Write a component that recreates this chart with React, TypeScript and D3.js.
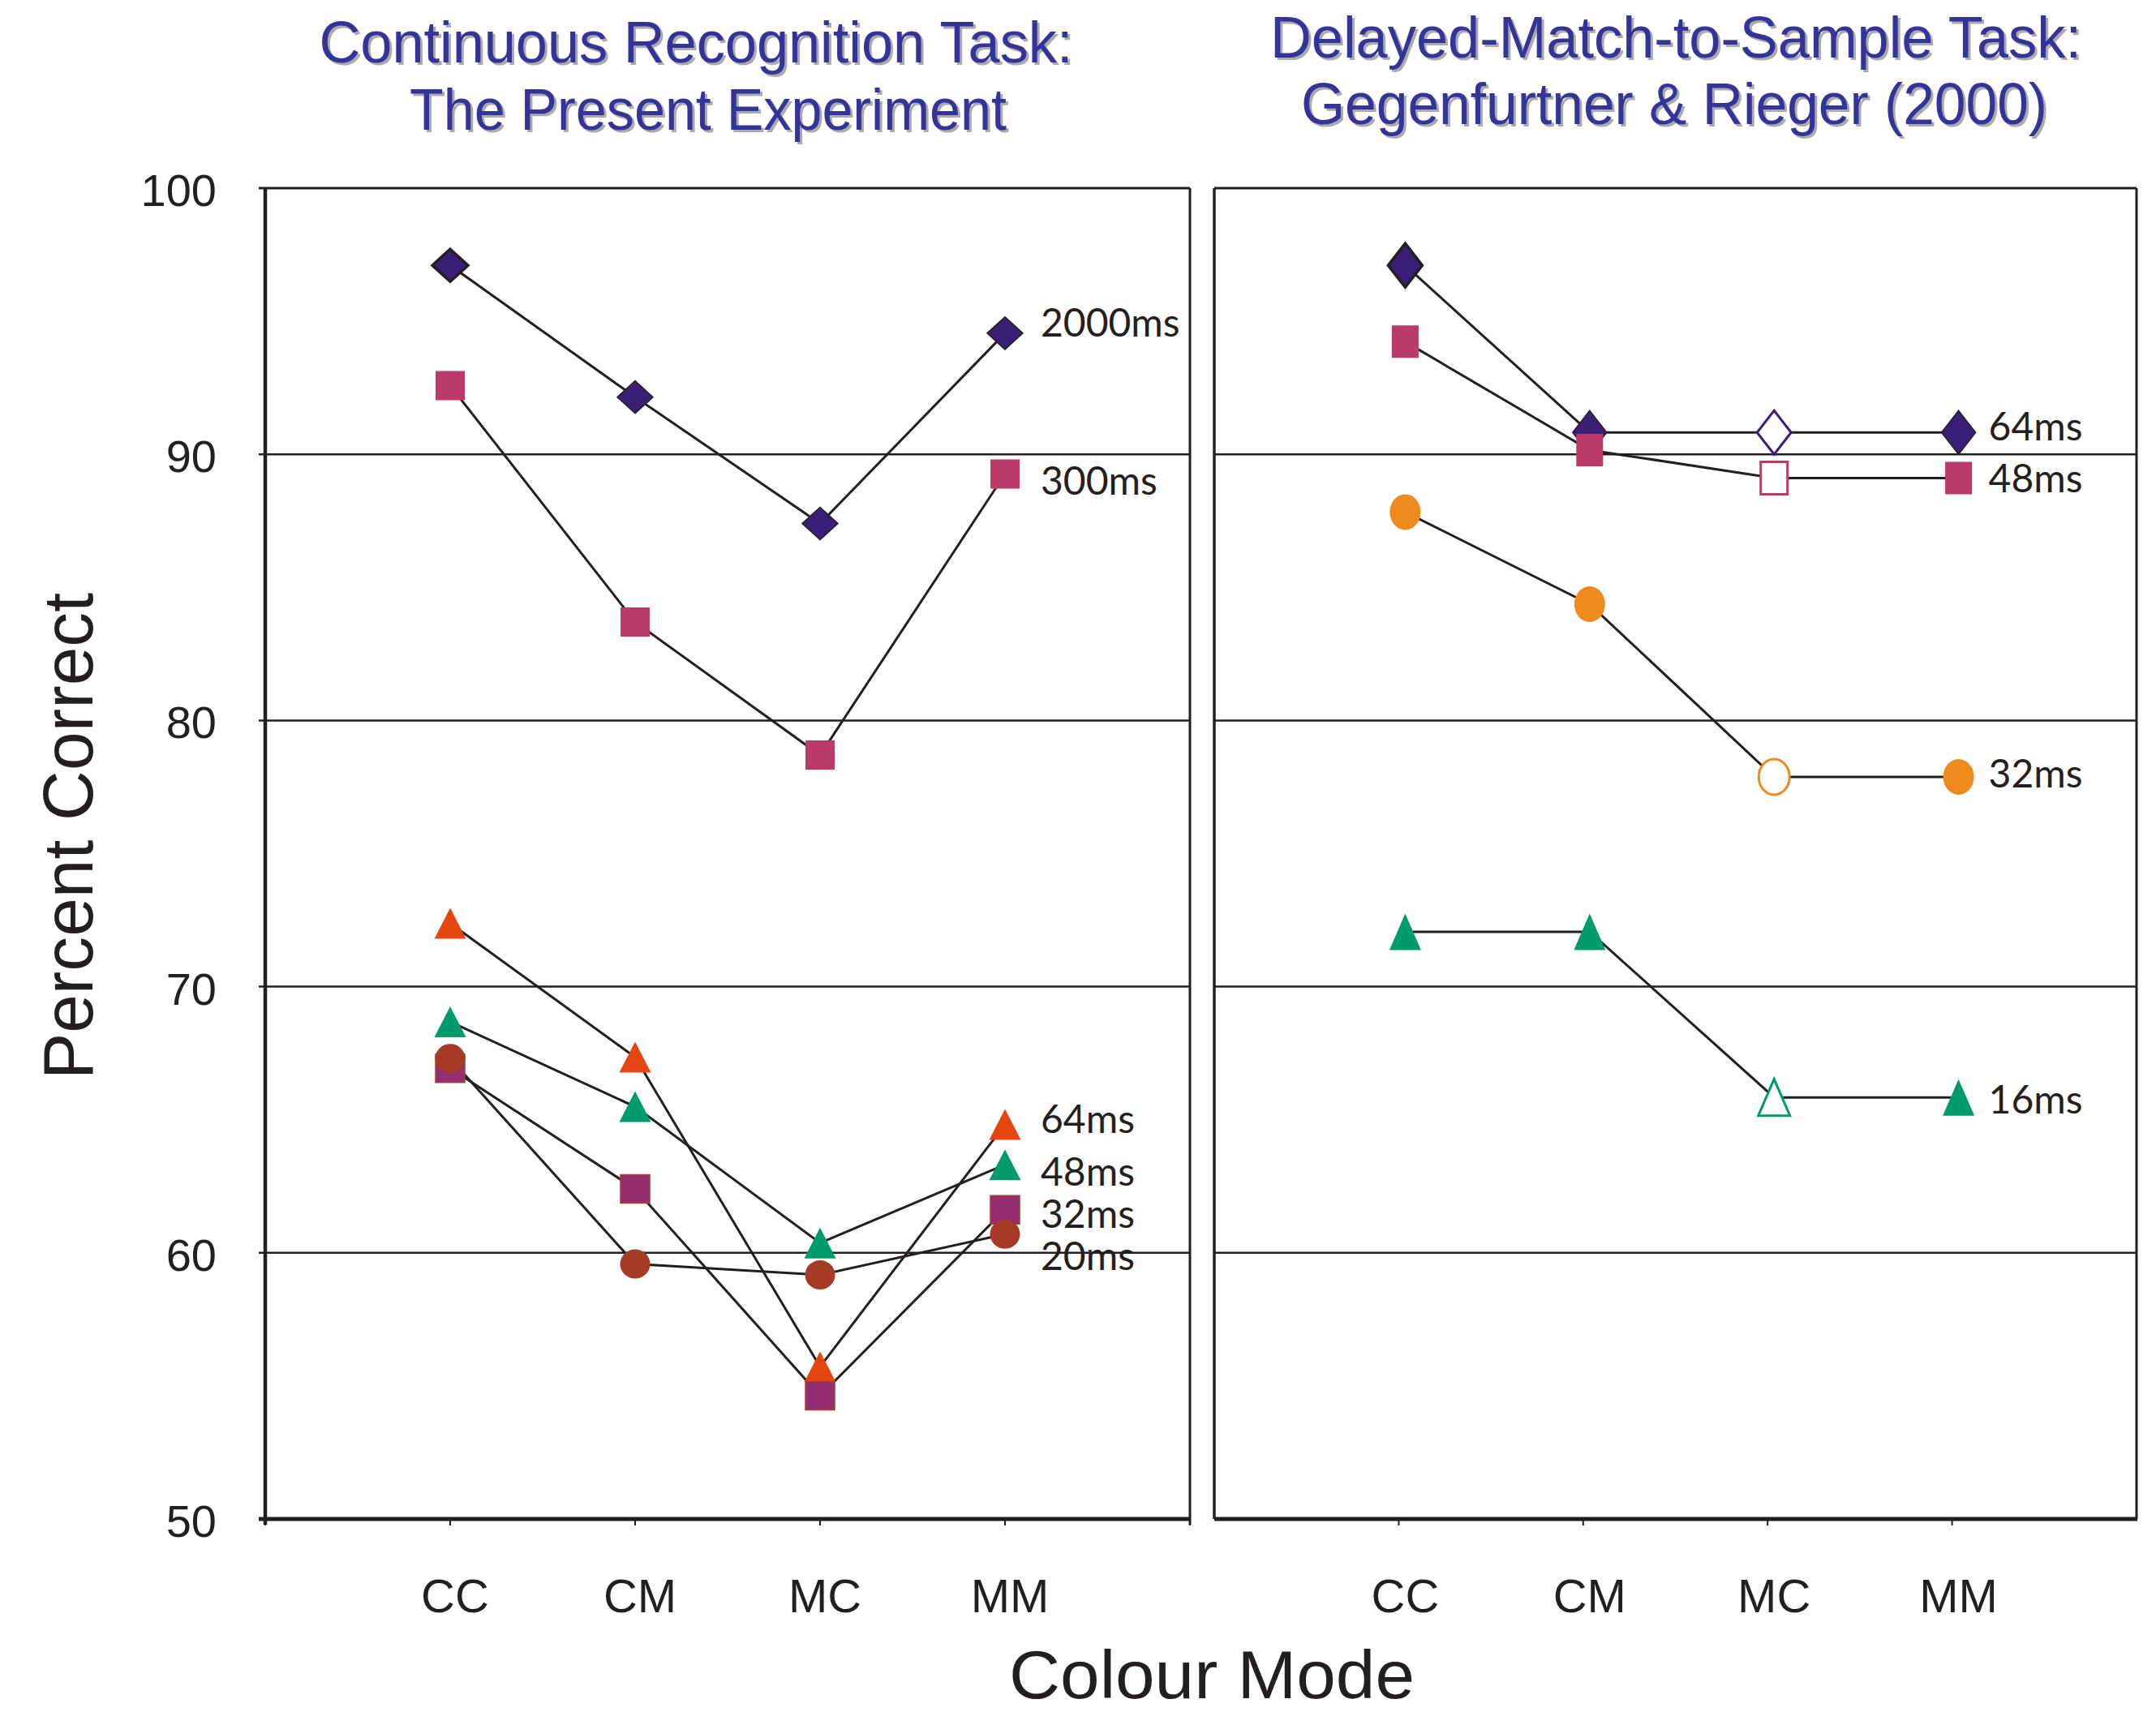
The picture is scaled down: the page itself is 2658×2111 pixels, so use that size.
import React, { useEffect, useRef } from "react";
import * as d3 from "d3";

// colour modes on the x axis
const categories = ["CC", "CM", "MC", "MM"];
const yTicks = [50, 60, 70, 80, 90, 100];

// left panel: continuous recognition task (present experiment)
const left2000 = [97.1, 92.15, 87.4, 94.55];
const left300 = [92.58, 83.7, 78.7, 89.26];
const left64 = [72.38, 67.35, 55.72, 64.82];
const left48 = [68.68, 65.49, 60.37, 63.31];
const left32 = [66.93, 62.4, 54.63, 61.62];
const left20 = [67.3, 59.58, 59.17, 60.7];
const leftLabels = ["2000ms", "300ms", "64ms", "48ms", "32ms", "20ms"];
const leftLabelAt = [94.42, 88.48, 64.5, 62.52, 60.94, 59.35];

// right panel: delayed-match-to-sample (Gegenfurtner & Rieger 2000)
const right64 = [97.1, 90.82, 90.82, 90.82];
const right48 = [94.23, 90.16, 89.11, 89.11];
const right32 = [87.83, 84.37, 77.88, 77.88];
const right16 = [72.06, 72.06, 65.84, 65.84];
const rightLabels = ["64ms", "48ms", "32ms", "16ms"];
const rightLabelAt = [90.52, 88.57, 77.48, 65.23];
const rightOpenIndex = 2; // MC markers are unfilled

const W = 2658;
const H = 2111;
const TOP = 232;
const BOTTOM = 1873;
const INK = "#231f20";
const SANS = "'Liberation Sans', Arial, sans-serif";
const LABEL_FONT = "Lato, 'Open Sans', sans-serif";

type Shape = "diamond" | "square" | "triangle" | "circle";
interface Series {
  values: number[];
  shape: Shape;
  fill: string;
  stroke?: string;
  w: number;
  h: number;
}

const leftSeries: Series[] = [
  { values: left2000, shape: "diamond", fill: "#3a1f78", stroke: INK, w: 44, h: 40 },
  { values: left300, shape: "square", fill: "#bc3a6a", w: 36, h: 36 },
  { values: left64, shape: "triangle", fill: "#e54610", w: 39, h: 38 },
  { values: left48, shape: "triangle", fill: "#009b6c", w: 39, h: 38 },
  { values: left32, shape: "square", fill: "#952d73", stroke: "#a8402a", w: 36, h: 35 },
  { values: left20, shape: "circle", fill: "#a53b25", w: 37, h: 36 },
];

const rightSeries: Series[] = [
  { values: right64, shape: "diamond", fill: "#3a1f78", stroke: INK, w: 42, h: 54 },
  { values: right48, shape: "square", fill: "#bc3a6a", w: 33, h: 40 },
  { values: right32, shape: "circle", fill: "#ee8b1c", w: 38, h: 44 },
  { values: right16, shape: "triangle", fill: "#009b6c", w: 39, h: 45 },
];

function markerPath(shape: Shape, w: number, h: number) {
  const p = d3.path();
  if (shape === "diamond") {
    p.moveTo(0, -h / 2);
    p.lineTo(w / 2, 0);
    p.lineTo(0, h / 2);
    p.lineTo(-w / 2, 0);
    p.closePath();
  } else if (shape === "triangle") {
    p.moveTo(0, -h / 2);
    p.lineTo(w / 2, h / 2);
    p.lineTo(-w / 2, h / 2);
    p.closePath();
  } else {
    p.rect(-w / 2, -h / 2, w, h);
  }
  return p.toString();
}

export default function App() {
  const svgRef = useRef<SVGSVGElement>(null);

  useEffect(() => {
    document.body.style.margin = "0";
    if (!svgRef.current) return;
    const svg = d3.select(svgRef.current);
    svg.selectAll("*").remove();

    const y = d3.scaleLinear().domain([50, 100]).range([BOTTOM, TOP]);
    const xLeft = d3.scaleLinear().domain([0, 5]).range([327, 1467]);
    const xRight = d3.scaleLinear().domain([0, 5]).range([1497, 2634]);

    // タイトル（影付き）
    const title = (lines: string[], cx: number[], base: number[], lens: number[]) => {
      lines.forEach((t, i) => {
        [
          { dx: 3, dy: 3, c: "#ababab" },
          { dx: 0, dy: 0, c: "#333399" },
        ].forEach((s) => {
          svg
            .append("text")
            .attr("x", cx[i] + s.dx)
            .attr("y", base[i] + s.dy)
            .attr("text-anchor", "middle")
            .attr("textLength", lens[i])
            .attr("lengthAdjust", "spacingAndGlyphs")
            .style("font-family", SANS)
            .style("font-size", "72px")
            .style("fill", s.c)
            .text(t);
        });
      });
    };
    title(
      ["Continuous Recognition Task:", "The Present Experiment"],
      [858, 873],
      [77, 160],
      [929, 736]
    );
    title(
      ["Delayed-Match-to-Sample Task:", "Gegenfurtner & Rieger (2000)"],
      [2066, 2064],
      [71, 153],
      [1000, 920]
    );

    const drawPanel = (
      x: d3.ScaleLinear<number, number>,
      series: Series[],
      labels: string[],
      labelAt: number[],
      isLeft: boolean
    ) => {
      const [x0, x1] = x.range();
      const shift = isLeft ? 0 : 8;
      const px = (i: number) => x(i + 1) + shift;
      const g = svg.append("g");

      // グリッド線
      yTicks
        .filter((t) => t > 50 && t < 100)
        .forEach((t) => {
          g.append("line")
            .attr("x1", isLeft ? x0 - 8 : x0)
            .attr("x2", x1)
            .attr("y1", y(t))
            .attr("y2", y(t))
            .attr("stroke", INK)
            .attr("stroke-width", 2.5);
        });

      // 枠
      g.append("line")
        .attr("x1", isLeft ? x0 - 8 : x0)
        .attr("x2", x1)
        .attr("y1", y(100))
        .attr("y2", y(100))
        .attr("stroke", INK)
        .attr("stroke-width", 3);
      g.append("line")
        .attr("x1", x1)
        .attr("x2", x1)
        .attr("y1", y(100))
        .attr("y2", y(50) + (isLeft ? 7 : 0))
        .attr("stroke", INK)
        .attr("stroke-width", 3);
      g.append("line")
        .attr("x1", x0)
        .attr("x2", x0)
        .attr("y1", y(100))
        .attr("y2", y(50) + (isLeft ? 7 : 0))
        .attr("stroke", INK)
        .attr("stroke-width", isLeft ? 4.5 : 3.5);
      g.append("line")
        .attr("x1", isLeft ? x0 - 8 : x0)
        .attr("x2", x1 + 1)
        .attr("y1", y(50))
        .attr("y2", y(50))
        .attr("stroke", INK)
        .attr("stroke-width", 5);

      // X軸の目盛り
      const tickIdx = isLeft ? [0, 1, 2, 3, 4, 5] : [1, 2, 3, 4];
      tickIdx.forEach((i) => {
        g.append("line")
          .attr("x1", x(i))
          .attr("x2", x(i))
          .attr("y1", y(50))
          .attr("y2", y(50) + 8)
          .attr("stroke", INK)
          .attr("stroke-width", 2);
      });

      categories.forEach((c, i) => {
        g.append("text")
          .attr("x", px(i) + (isLeft ? 6 : 0))
          .attr("y", 1988)
          .attr("text-anchor", "middle")
          .style("font-family", SANS)
          .style("font-size", "58px")
          .style("fill", INK)
          .text(c);
      });

      // ライン
      const line = d3
        .line<number>()
        .x((_, i) => px(i))
        .y((d) => y(d));
      series.forEach((s) => {
        g.append("path")
          .datum(s.values)
          .attr("fill", "none")
          .attr("stroke", INK)
          .attr("stroke-width", 3)
          .attr("d", line);
      });

      // マーカー
      series.forEach((s) => {
        s.values.forEach((v, i) => {
          const open = !isLeft && i === rightOpenIndex;
          const m =
            s.shape === "circle"
              ? g
                  .append("ellipse")
                  .attr("cx", px(i))
                  .attr("cy", y(v))
                  .attr("rx", s.w / 2)
                  .attr("ry", s.h / 2)
              : g
                  .append("path")
                  .attr("transform", `translate(${px(i)},${y(v)})`)
                  .attr("d", markerPath(s.shape, s.w, s.h));
          if (open) {
            m.attr("fill", "white").attr("stroke", s.fill).attr("stroke-width", 3);
          } else {
            m.attr("fill", s.fill);
            if (s.stroke) {
              const thick = s.shape === "diamond" && i === 0 ? 3.5 : 1.5;
              m.attr("stroke", s.stroke).attr("stroke-width", thick);
            }
          }
        });
      });

      // 系列ラベル
      labels.forEach((l, i) => {
        g.append("text")
          .attr("x", px(3) + (isLeft ? 44 : 37))
          .attr("y", y(labelAt[i]))
          .style("font-family", LABEL_FONT)
          .style("font-size", "48px")
          .style("fill", INK)
          .text(l);
      });
    };

    drawPanel(xLeft, leftSeries, leftLabels, leftLabelAt, true);
    drawPanel(xRight, rightSeries, rightLabels, rightLabelAt, false);

    // Y軸ラベル
    yTicks.forEach((t) => {
      svg
        .append("text")
        .attr("x", 267)
        .attr("y", y(t) + 22)
        .attr("text-anchor", "end")
        .style("font-family", SANS)
        .style("font-size", "56px")
        .style("fill", INK)
        .text(t);
    });

    svg
      .append("text")
      .attr("transform", "translate(114,1031) rotate(-90)")
      .attr("text-anchor", "middle")
      .attr("textLength", 600)
      .attr("lengthAdjust", "spacingAndGlyphs")
      .style("font-family", SANS)
      .style("font-size", "88px")
      .style("fill", INK)
      .text("Percent Correct");

    svg
      .append("text")
      .attr("x", 1494)
      .attr("y", 2094)
      .attr("text-anchor", "middle")
      .attr("textLength", 500)
      .attr("lengthAdjust", "spacingAndGlyphs")
      .style("font-family", SANS)
      .style("font-size", "84px")
      .style("fill", INK)
      .text("Colour Mode");
  }, []);

  return (
    <svg
      ref={svgRef}
      width={W}
      height={H}
      viewBox={`0 0 ${W} ${H}`}
      style={{ display: "block", background: "white" }}
    />
  );
}
